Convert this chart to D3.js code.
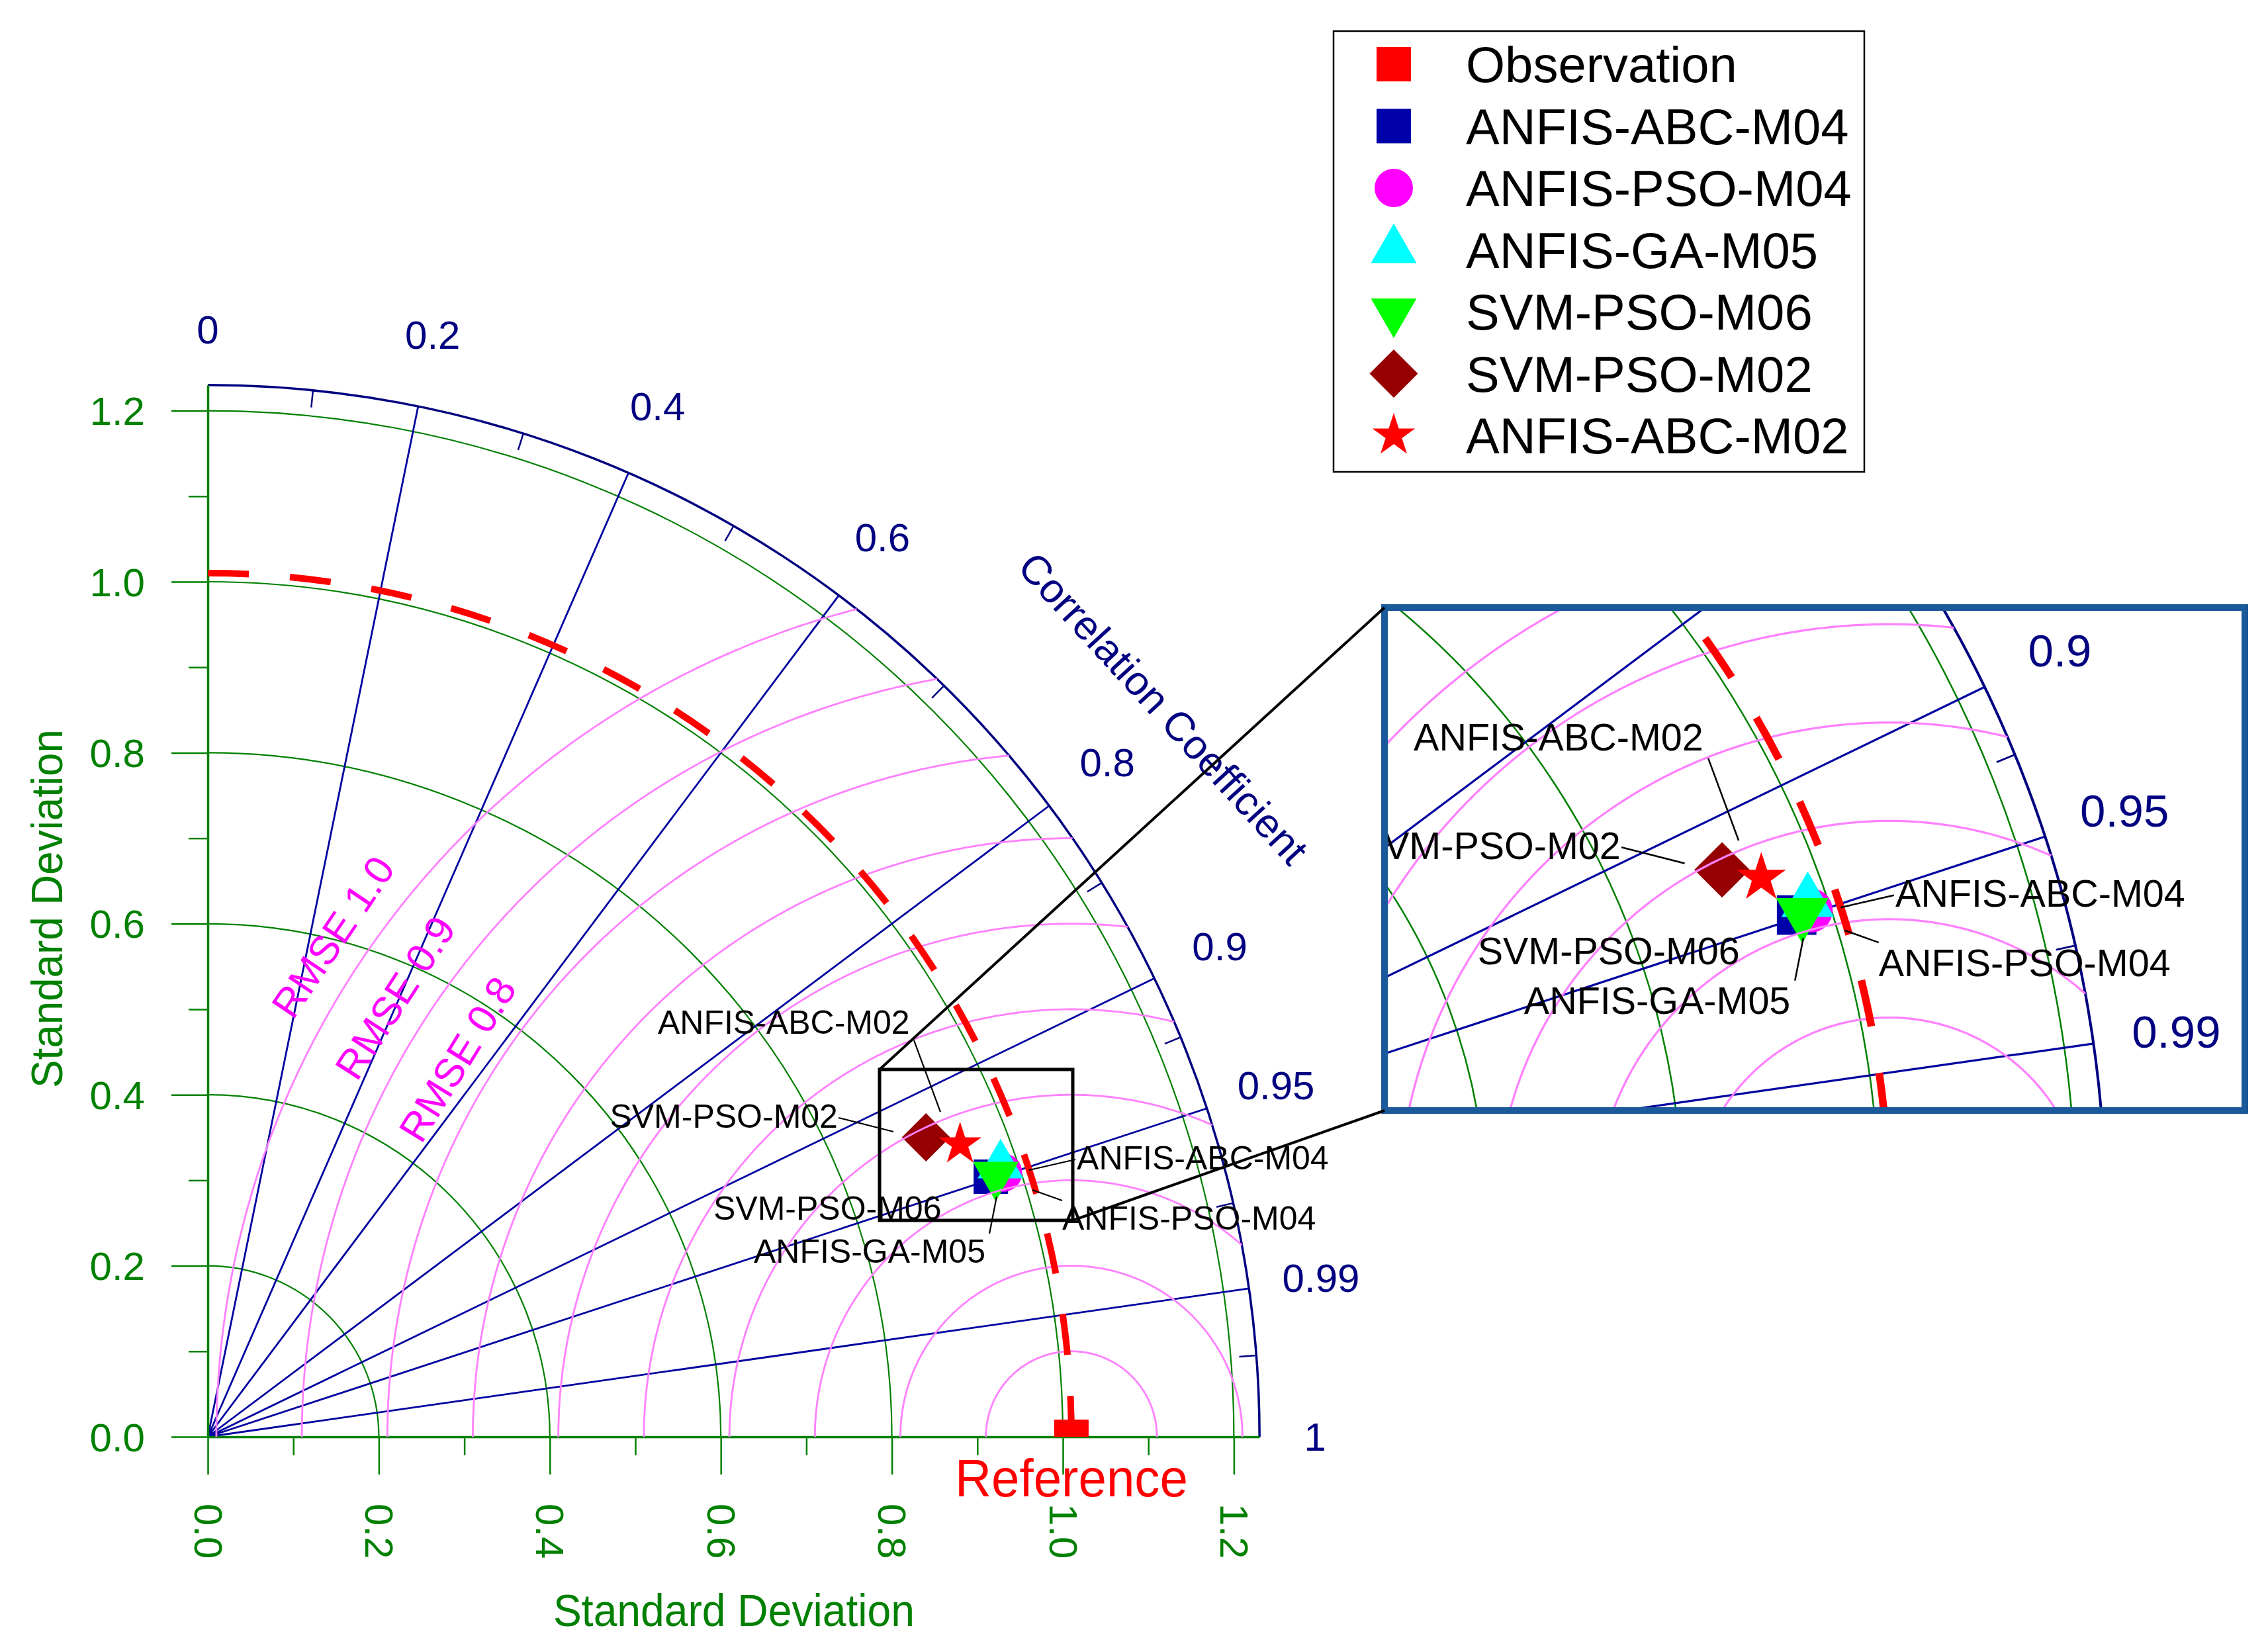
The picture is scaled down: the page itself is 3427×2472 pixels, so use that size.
<!DOCTYPE html>
<html><head><meta charset="utf-8">
<script src="https://cdn.jsdelivr.net/npm/d3@7"></script>
<style>body{margin:0;background:#fff}</style>
</head><body>
<svg id="chart" width="3427" height="2472" xmlns="http://www.w3.org/2000/svg"></svg>
<script>
// ---------------- DATA ----------------
const refName = "Observation";
const refSD = 1.01;
const models = ["ANFIS-ABC-M04","ANFIS-PSO-M04","ANFIS-GA-M05","SVM-PSO-M06","SVM-PSO-M02","ANFIS-ABC-M02"];
const modelSD   = [0.965, 0.980, 0.980, 0.971, 0.910, 0.944];
const modelCorr = [0.949, 0.949, 0.946, 0.949, 0.923, 0.932];
const sdMax = 1.23;
const sdTicks = [0, 0.2, 0.4, 0.6, 0.8, 1.0, 1.2];
const sdMinorTicks = [0.1, 0.3, 0.5, 0.7, 0.9, 1.1];
const sdArcs = [0.2, 0.4, 0.6, 0.8, 1.0, 1.2];
const corrLines = [0.2, 0.4, 0.6, 0.8, 0.9, 0.95, 0.99];
const corrLabels = [0, 0.2, 0.4, 0.6, 0.8, 0.9, 0.95, 0.99, 1];
const corrMinorTicks = [0.1, 0.3, 0.5, 0.7, 0.85, 0.925, 0.975, 0.997];
const rmseArcs = [0.1, 0.2, 0.3, 0.4, 0.5, 0.6, 0.7, 0.8, 0.9, 1.0];
const rmseLabels = [1.0, 0.9, 0.8];

// ---------------- STYLE / LAYOUT ----------------
const FONT = '"Liberation Sans", Arial, Helvetica, sans-serif';
const GREEN = "#008000", NAVY = "#000080", NAVYL = "#0000A0", PINK = "#FF80FF", MAG = "#FF00FF", RED = "#FF0000";
const modelShapes = ["square","circle","triUp","triDown","diamond","star"];
const modelColors = ["#0000AA","#FF00FF","#00FFFF","#00FF00","#960000","#FF0000"];
const symDefs = {
  square:[d3.symbolSquare,2704,0], circle:[d3.symbolCircle,2642,0],
  triUp:[d3.symbolTriangle,2062,0], triDown:[d3.symbolTriangle,2062,180],
  diamond:[d3.symbolSquare,2663,45], star:[d3.symbolStar,1298,0]
};
const labelLayout = {
  "ANFIS-ABC-M02": {tx:0.5263, ty:0.4714, anchor:"start", leader:[0.8259,0.4636,0.8568,0.3800]},
  "SVM-PSO-M02":   {tx:0.7368, ty:0.3615, anchor:"end",   leader:[0.7376,0.3731,0.8019,0.3568]},
  "SVM-PSO-M06":   {tx:0.5913, ty:0.2539, anchor:"start", leader:null},
  "ANFIS-GA-M05":  {tx:0.6385, ty:0.2036, anchor:"start", leader:[0.9141,0.2376,0.9226,0.2810]},
  "ANFIS-ABC-M04": {tx:1.0163, ty:0.3127, anchor:"start", leader:[0.9605,0.3119,1.0147,0.3243]},
  "ANFIS-PSO-M04": {tx:0.9992, ty:0.2423, anchor:"start", leader:[0.9644,0.2887,0.9992,0.2763]}
};
const rmseLabelAngle = {"1": 34.1, "0.9": 33.0, "0.8": 31.6};
const zoomBox = [0.7856, 0.2531, 1.0116, 0.4296];
const inset = {x:2092, y:918, w:1300, h:760, tx:993, ty:-662, s:1.15};

const ox = 314, oy = 2171, k = 1292;
const xs = d3.scaleLinear().domain([0, sdMax]).range([ox, ox + sdMax*k]);
const ys = d3.scaleLinear().domain([0, sdMax]).range([oy, oy - sdMax*k]);
const P = (sd, c) => [xs(sd*c), ys(sd*Math.sqrt(Math.max(0, 1 - c*c)))];

const svg = d3.select("#chart").attr("font-family", FONT);
svg.append("rect").attr("width",3427).attr("height",2472).attr("fill","#fff");
const defs = svg.append("defs");
defs.append("clipPath").attr("id","aboveAxis").append("rect")
  .attr("x",0).attr("y",0).attr("width",3427).attr("height",oy);
defs.append("clipPath").attr("id","insetClip").append("rect")
  .attr("x",inset.x).attr("y",inset.y).attr("width",inset.w).attr("height",inset.h);

function sym(shape){
  const [t,s] = symDefs[shape];
  return d3.symbol().type(t).size(s)();
}

function drawDiagram(g, isInset){
  const R = xs(sdMax) - xs(0);
  // SD arcs (green)
  g.append("g").selectAll("path").data(sdArcs).join("path")
    .attr("d", s => { const p = d3.path(); const r = xs(s)-xs(0); p.moveTo(ox, oy - r); p.arc(ox, oy, r, -Math.PI/2, 0); return p.toString(); })
    .attr("fill","none").attr("stroke",GREEN).attr("stroke-width",2.2);
  // correlation lines
  g.append("g").selectAll("line").data(corrLines).join("line")
    .attr("x1",ox).attr("y1",oy)
    .attr("x2",c => P(sdMax,c)[0]).attr("y2",c => P(sdMax,c)[1])
    .attr("stroke",NAVYL).attr("stroke-width",2.8);
  // outer arc
  const op = d3.path(); op.moveTo(ox, oy - R); op.arc(ox, oy, R, -Math.PI/2, 0);
  g.append("path").attr("d", op.toString()).attr("fill","none").attr("stroke",NAVY).attr("stroke-width",3.5);
  // minor ticks on outer arc
  const tl = 26/k;
  g.append("g").selectAll("line").data(corrMinorTicks).join("line")
    .attr("x1",c => P(sdMax,c)[0]).attr("y1",c => P(sdMax,c)[1])
    .attr("x2",c => P(sdMax-tl,c)[0]).attr("y2",c => P(sdMax-tl,c)[1])
    .attr("stroke",NAVY).attr("stroke-width",2.5);
  // correlation labels (inset shows only the high-correlation ones)
  g.append("g").selectAll("text").data(isInset ? corrLabels.filter(c => c >= 0.9 && c < 1) : corrLabels).join("text")
    .attr("x", c => P((c===0||c===1)?1.295:1.315, c)[0])
    .attr("y", c => P((c===0||c===1)?1.295:1.315, c)[1])
    .attr("dy","0.35em").attr("text-anchor","middle")
    .attr("font-size",60).attr("fill",NAVY).text(c => String(c));

  if (!isInset) {
    // Correlation Coefficient title
    const ct = [xs(1.1176), ys(0.8522)];
    g.append("text").attr("transform",`translate(${ct[0]},${ct[1]}) rotate(47.5)`)
      .attr("text-anchor","middle").attr("dy","0.35em").attr("font-size",62).attr("fill",NAVY)
      .text("Correlation Coefficient");

    // axes
    const xa = g.append("g").attr("transform",`translate(0,${oy})`)
      .call(d3.axisBottom(xs).tickValues(sdTicks).tickSize(57).tickSizeOuter(0).tickFormat(d3.format(".1f")));
    xa.attr("font-family",FONT).attr("font-size",null);
    xa.select(".domain").attr("stroke",GREEN).attr("stroke-width",3.5);
    xa.selectAll(".tick line").attr("stroke",GREEN).attr("stroke-width",2.5);
    xa.selectAll(".tick text").attr("fill",GREEN).attr("font-size",60).attr("x",0).attr("y",0)
      .attr("dy","0.35em").attr("text-anchor","start").attr("transform","translate(0,101) rotate(90)");
    const xm = g.append("g").attr("transform",`translate(0,${oy})`)
      .call(d3.axisBottom(xs).tickValues(sdMinorTicks).tickSize(28).tickSizeOuter(0).tickFormat(""));
    xm.select(".domain").remove();
    xm.selectAll(".tick line").attr("stroke",GREEN).attr("stroke-width",2.5);

    const ya = g.append("g").attr("transform",`translate(${ox},0)`)
      .call(d3.axisLeft(ys).tickValues(sdTicks).tickSize(55).tickPadding(40).tickSizeOuter(0).tickFormat(d3.format(".1f")));
    ya.attr("font-family",FONT).attr("font-size",null);
    ya.select(".domain").attr("stroke",GREEN).attr("stroke-width",3.5);
    ya.selectAll(".tick line").attr("stroke",GREEN).attr("stroke-width",2.5);
    ya.selectAll(".tick text").attr("fill",GREEN).attr("font-size",60).attr("dy","0.35em");
    const ym = g.append("g").attr("transform",`translate(${ox},0)`)
      .call(d3.axisLeft(ys).tickValues(sdMinorTicks).tickSize(29).tickSizeOuter(0).tickFormat(""));
    ym.select(".domain").remove();
    ym.selectAll(".tick line").attr("stroke",GREEN).attr("stroke-width",2.5);

    // axis titles
    g.append("text").attr("x",1109).attr("y",2457).attr("text-anchor","middle")
      .attr("font-size",68).attr("fill",GREEN).attr("textLength",546).attr("lengthAdjust","spacingAndGlyphs")
      .text("Standard Deviation");
    g.append("text").attr("transform","translate(94,1373) rotate(-90)").attr("text-anchor","middle")
      .attr("font-size",67).attr("fill",GREEN).attr("textLength",542).attr("lengthAdjust","spacingAndGlyphs")
      .text("Standard Deviation");

    // observation marker (only the part above the axis is shown)
    g.append("g").attr("clip-path","url(#aboveAxis)")
      .append("path").attr("d", sym("square"))
      .attr("transform",`translate(${xs(refSD)},${ys(0)})`).attr("fill",RED);
  }

  // model markers
  g.append("g").selectAll("path").data(models).join("path")
    .attr("d",(d,i) => sym(modelShapes[i]))
    .attr("transform",(d,i) => { const p = P(modelSD[i], modelCorr[i]); return `translate(${p[0]},${p[1]}) rotate(${symDefs[modelShapes[i]][2]})`; })
    .attr("fill",(d,i) => modelColors[i]);

  // RMSE arcs (drawn above markers, as in the reference)
  const rmsePath = r => {
    const c = (sdMax*sdMax - refSD*refSD - r*r)/(2*refSD*r);
    const phi0 = c >= 1 ? 0 : Math.acos(c);
    const pts = d3.range(0, 241).map(i => { const f = phi0 + (Math.PI - phi0)*i/240; return [xs(refSD + r*Math.cos(f)), ys(r*Math.sin(f))]; });
    return d3.line()(pts);
  };
  g.append("g").selectAll("path").data(rmseArcs).join("path")
    .attr("d", rmsePath).attr("fill","none").attr("stroke",PINK).attr("stroke-width",2.8);

  if (!isInset) {
    // RMSE labels
    g.append("g").selectAll("text").data(rmseLabels).join("text")
      .attr("transform", r => {
        const a = rmseLabelAngle[String(r)] * Math.PI/180, rr = r + 0.043;
        const x = xs(refSD - rr*Math.cos(a)), y = ys(rr*Math.sin(a));
        return `translate(${x},${y}) rotate(${-(90 - rmseLabelAngle[String(r)])})`;
      })
      .attr("text-anchor","middle").attr("dy","0.35em").attr("font-size",61).attr("fill",MAG)
      .text(r => "RMSE " + d3.format(".1f")(r));
  }

  // reference dashed arc
  const rr = xs(refSD) - xs(0);
  const L = Math.PI/2*rr, dash = L/33;
  const rp = d3.path(); rp.moveTo(ox, oy - rr); rp.arc(ox, oy, rr, -Math.PI/2, 0);
  g.append("path").attr("d", rp.toString()).attr("fill","none").attr("stroke",RED)
    .attr("stroke-width",10).attr("stroke-dasharray",`${dash},${dash}`);

  if (!isInset) {
    // Reference label
    g.append("text").attr("x",xs(refSD)).attr("y",2261).attr("text-anchor","middle")
      .attr("font-size",80).attr("fill",RED).attr("textLength",352).attr("lengthAdjust","spacingAndGlyphs")
      .text("Reference");
  }

  // point annotations
  const ann = g.append("g");
  models.forEach(m => {
    const l = labelLayout[m];
    if (l.leader) ann.append("line")
      .attr("x1",xs(l.leader[0])).attr("y1",ys(l.leader[1]))
      .attr("x2",xs(l.leader[2])).attr("y2",ys(l.leader[3]))
      .attr("stroke","#000").attr("stroke-width",2.2);
    ann.append("text").attr("x",xs(l.tx)).attr("y",ys(l.ty)).attr("text-anchor",l.anchor)
      .attr("font-size",50).attr("fill","#000").text(m);
  });
}

// main diagram
drawDiagram(svg.append("g"), false);

// zoom rectangle
svg.append("rect")
  .attr("x",xs(zoomBox[0])).attr("y",ys(zoomBox[3]))
  .attr("width",xs(zoomBox[2])-xs(zoomBox[0])).attr("height",ys(zoomBox[1])-ys(zoomBox[3]))
  .attr("fill","none").attr("stroke","#000").attr("stroke-width",5);

// inset
const ig = svg.append("g").attr("clip-path","url(#insetClip)");
ig.append("rect").attr("x",inset.x).attr("y",inset.y).attr("width",inset.w).attr("height",inset.h).attr("fill","#fff");
drawDiagram(ig.append("g").attr("transform",`translate(${inset.tx},${inset.ty}) scale(${inset.s})`), true);
svg.append("rect").attr("x",inset.x).attr("y",inset.y).attr("width",inset.w).attr("height",inset.h)
  .attr("fill","none").attr("stroke","#1B5A9A").attr("stroke-width",10);

// connectors
svg.append("line").attr("x1",xs(zoomBox[0])).attr("y1",ys(zoomBox[3])).attr("x2",inset.x).attr("y2",inset.y)
  .attr("stroke","#000").attr("stroke-width",4);
svg.append("line").attr("x1",xs(zoomBox[2])).attr("y1",ys(zoomBox[1])).attr("x2",inset.x).attr("y2",inset.y+inset.h)
  .attr("stroke","#000").attr("stroke-width",4);

// legend
const lg = svg.append("g");
lg.append("rect").attr("x",2015).attr("y",47).attr("width",802).attr("height",666)
  .attr("fill","#fff").attr("stroke","#000").attr("stroke-width",2.5);
const legNames = [refName].concat(models);
const legShapes = ["square"].concat(modelShapes);
const legColors = [RED].concat(modelColors);
const rows = lg.selectAll("g.row").data(legNames).join("g").attr("class","row")
  .attr("transform",(d,i) => `translate(0,${97 + i*93.5})`);
rows.append("path").attr("d",(d,i) => sym(legShapes[i]))
  .attr("transform",(d,i) => `translate(2106,0) rotate(${symDefs[legShapes[i]][2]})`)
  .attr("fill",(d,i) => legColors[i]);
rows.append("text").attr("x",2215).attr("y",27).attr("font-size",76).attr("fill","#000").text(d => d);
</script>
</body></html>
